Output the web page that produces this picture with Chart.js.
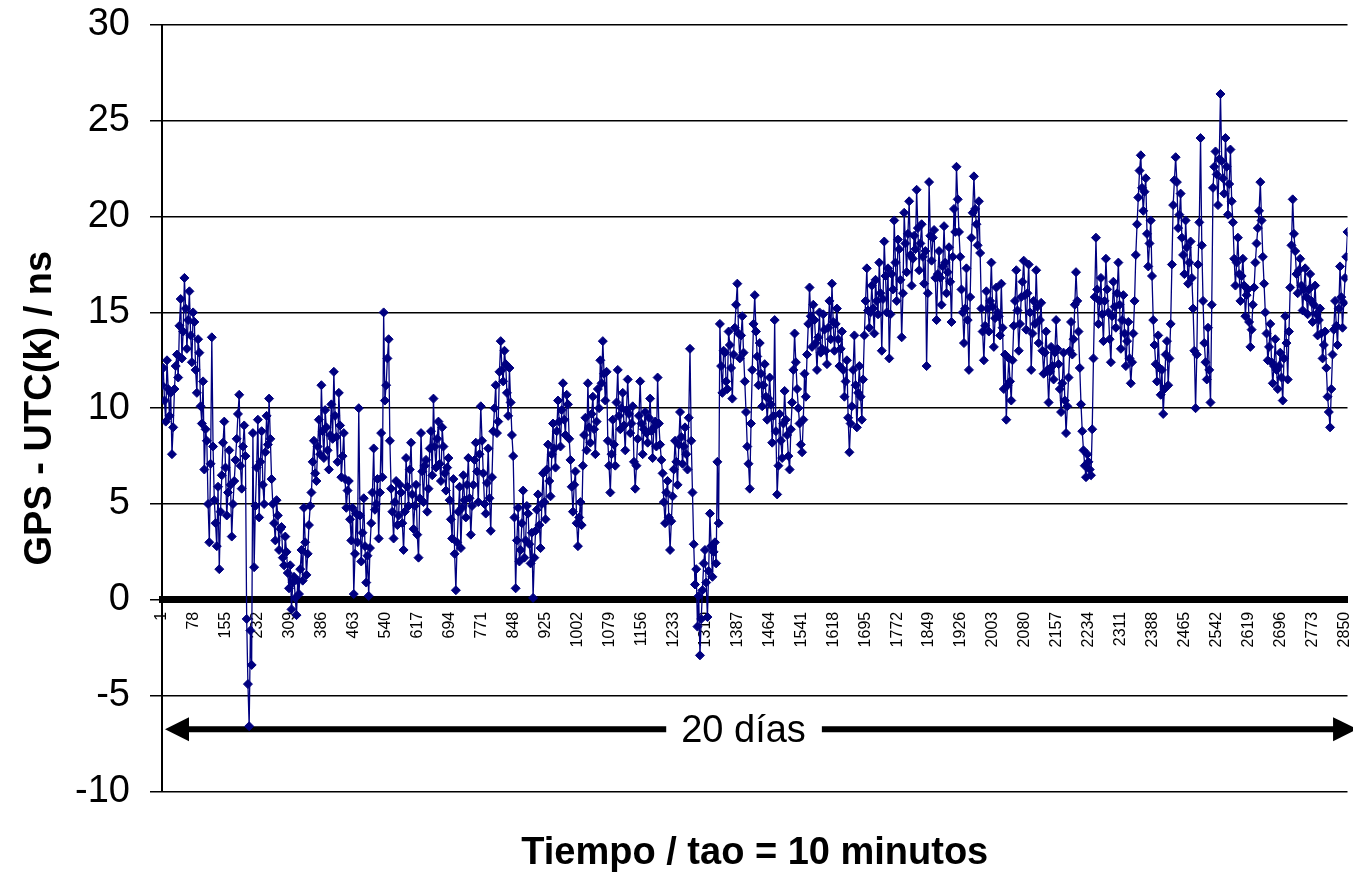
<!DOCTYPE html>
<html>
<head>
<meta charset="utf-8">
<script src="https://cdn.jsdelivr.net/npm/chart.js@4.4.1/dist/chart.umd.min.js"></script>
<style>
html,body{margin:0;padding:0;background:#fff;overflow:hidden}
#wrap{width:1353px;height:879px;position:relative}
</style>
</head>
<body>
<div id="wrap"><canvas id="c"></canvas></div>
<script>
// sample number of the first value and spacing (in samples) between the values
const firstSample = 1;
const sampleStep = 3;

// GPS - UTC(k) in ns, in time order
const valuesPart1 = [
  11.2,12.1,10.4,9.3,12.5,11.0,9.6,10.8,7.6,9.0,11.0,12.2,12.8,11.6,14.3,15.7,12.6,14.0,16.8,15.2,
  13.1,14.6,16.1,13.8,12.4,15.0,14.5,12.0,10.8,13.6,12.9,10.1,9.2,11.4,6.8,8.9,8.3,5.0,3.0,7.1,
  13.7,8.0,5.2,4.0,2.8,5.9,1.6,4.6,6.5,8.2,9.3,6.9,4.4,5.6,7.8,6.0,3.3,5.0,6.2,7.3,
  8.4,9.7,10.7,7.0,5.8,8.0,9.1,7.5,-1.0,-4.4,-6.6,-1.6,-3.4,8.7,1.7,4.9,6.9,9.4,4.3,7.2,
  8.8,6.0,5.0,7.7,9.6,8.1,10.5,8.4,6.3,5.0,4.0,3.1,5.2,4.4,2.6,3.7,3.8,2.2,1.8,3.3,
  2.5,1.4,0.6,1.8,-0.5,0.9,1.2,0.1,-0.8,1.0,0.3,1.6,2.6,1.0,4.8,3.0,1.3,2.4,3.9,4.9,
  5.6,7.2,8.3,6.6,6.2,8.0,9.4,7.6,11.2,8.8,7.4,9.9,9.0,7.8,6.8,8.6,10.2,8.4,11.9,9.6,
  8.5,7.2,10.8,9.1,6.4,7.5,8.7,6.3,4.8,5.7,6.2,4.2,3.1,4.8,0.3,2.4,4.5,3.0,10.0,4.4,
  2.0,3.5,5.3,2.8,0.9,2.3,0.2,2.7,4.0,5.6,7.9,4.7,5.0,6.3,3.2,5.6,8.7,6.4,15.0,10.4,
  11.2,12.6,13.6,8.3,5.8,4.6,3.2,5.1,6.2,3.9,4.4,6.0,5.6,4.0,2.6,4.6,7.4,5.9,4.9,6.8,
  8.2,5.5,3.7,4.9,6.0,3.4,2.2,5.3,8.7,6.7,5.1,7.0,7.3,4.6,5.8,7.9,8.8,6.5,10.5,8.0,
  6.9,8.4,9.3,7.1,6.2,9.0,8.0,6.6,5.7,6.9,7.4,5.2,4.2,3.2,6.3,2.4,0.5,3.0,4.6,5.9
];
const valuesPart2 = [
  2.7,4.8,6.5,5.2,4.3,6.0,7.4,5.3,3.4,4.9,6.0,7.3,8.2,6.7,5.1,7.6,10.1,8.3,6.6,5.0,
  4.5,6.1,7.9,5.3,3.6,6.4,8.8,10.0,11.2,8.7,9.3,11.9,13.5,12.0,11.4,13.0,12.3,10.8,9.6,12.1,
  10.3,8.6,7.5,4.3,0.6,3.1,4.8,2.0,2.6,4.0,5.7,2.2,3.1,4.9,4.5,2.9,1.9,3.5,0.1,2.2,
  3.6,4.7,5.5,3.9,2.7,5.0,6.6,5.1,4.2,6.8,8.1,6.2,5.4,7.6,9.2,7.9,6.9,8.8,10.4,9.3,
  8.0,9.9,11.3,9.4,8.6,10.7,10.2,8.4,7.3,5.9,4.6,6.0,6.7,4.0,2.8,4.3,5.1,3.9,7.0,8.6,
  9.5,7.8,11.3,9.0,8.2,9.7,10.6,8.9,7.6,9.3,11.0,10.0,12.5,11.3,13.5,11.8,10.4,11.9,8.3,7.0,
  5.6,7.6,9.4,8.1,7.0,10.3,12.0,9.6,8.9,10.0,10.8,9.1,7.8,9.9,11.5,9.7,8.7,9.2,10.1,7.2,
  5.8,7.0,8.4,9.6,11.4,9.2,7.6,8.9,9.8,8.7,8.2,9.5,10.5,8.8,7.4,9.0,9.3,8.0,11.6,9.2,
  8.1,7.3,6.6,5.1,4.0,5.6,6.2,4.3,2.6,4.1,5.4,6.8,8.3,7.2,6.0,8.1,9.8,8.5,7.1,8.0,
  9.0,7.6,6.8,9.5,13.1,8.3,5.6,2.9,0.8,1.6,-1.4,0.2,-2.9,-1.0,0.5,1.9,2.6,0.9,-0.9,1.5,
  4.5,2.8,1.2,2.5,3.0,1.9,7.2,4.0,14.4,12.2,10.8,13.0,12.9,11.4,11.0,14.0,13.3,12.1,10.5,12.8,
  14.2,15.4,16.5,13.9,12.6,13.8,14.8,12.9,11.4,9.8,8.0,7.1,5.8,9.2,12.0,14.4,15.9,14.0,12.7,11.2
];
const valuesPart3 = [
  13.4,11.8,10.1,11.2,12.3,10.6,9.4,10.5,11.6,10.2,8.2,9.6,14.6,8.8,5.5,7.0,9.7,8.3,7.4,9.2,
  10.9,9.4,8.6,7.5,6.8,8.9,10.3,12.0,13.9,12.4,11.0,10.0,9.2,8.1,7.7,9.4,11.8,10.6,12.8,14.4,
  16.3,14.8,13.2,15.4,14.6,13.4,12.0,13.7,15.0,12.9,13.1,14.9,14.1,13.0,12.3,14.2,15.6,13.6,16.5,14.5,
  13.0,14.4,15.2,13.6,12.2,13.1,14.0,12.0,10.6,11.4,12.5,9.5,7.7,9.2,10.1,12.0,13.8,11.2,9.0,10.8,
  12.2,10.6,9.4,11.5,13.8,15.6,17.3,15.1,14.2,15.0,16.4,15.2,13.9,16.7,15.6,14.9,17.6,16.0,13.0,15.7,
  18.7,16.9,15.0,17.3,12.6,14.9,17.0,16.2,19.8,17.6,15.6,18.8,18.3,16.7,13.7,16.0,20.2,18.6,17.1,19.1,
  20.8,18.0,16.4,17.8,19.0,18.3,21.4,19.4,17.2,18.6,19.6,17.9,16.5,18.2,12.2,16.0,21.8,19.0,17.7,18.9,
  19.3,16.8,14.6,17.0,18.2,16.8,15.4,17.4,19.5,17.6,16.0,17.1,18.4,16.6,14.5,17.9,20.4,19.2,22.6,20.9,
  19.2,17.9,16.2,15.0,13.4,15.2,17.3,14.6,12.0,15.8,18.9,20.2,22.1,20.4,19.6,18.5,20.8,18.1,15.2,14.0,
  12.5,14.3,16.1,15.2,14.0,15.6,17.6,15.3,13.2,14.7,16.3,15.0,14.8,13.8,16.5,14.2,11.0,12.8,9.4,11.2,
  12.6,11.4,10.4,12.5,14.3,15.6,17.2,15.1,13.0,14.4,15.8,16.6,17.7,15.9,14.1,16.0,17.5,15.0,12.0,13.9,
  15.6,14.4,17.2,15.3,13.4,14.6,15.5,13.0,11.8,12.9,14.0,12.0,10.3,11.9,13.2,12.2,11.5,12.9,14.6,13.1
];
const valuesPart4 = [
  12.3,11.0,9.8,11.3,12.9,10.4,8.7,10.1,11.6,13.0,14.5,12.8,13.6,15.4,17.1,15.6,14.0,12.1,10.2,8.8,
  7.8,7.0,6.4,7.6,7.2,6.8,6.5,8.9,12.6,15.8,18.9,16.2,14.4,15.6,16.8,14.9,13.5,15.6,17.8,16.2,
  15.0,13.6,12.4,14.8,16.6,15.3,14.2,16.0,17.6,15.4,13.1,14.6,15.9,13.9,12.2,13.5,14.5,12.6,11.3,12.4,
  13.9,15.6,18.0,19.6,21.0,22.4,23.2,21.5,20.3,21.3,22.0,19.1,17.4,18.6,19.8,16.9,14.6,13.3,12.3,11.4,
  13.8,12.1,10.7,12.0,9.7,11.0,12.8,13.5,11.2,12.6,14.4,17.5,20.6,21.9,23.1,21.8,19.4,20.1,21.2,18.9,
  18.0,17.0,19.8,18.4,16.5,17.6,18.7,16.8,15.2,13.0,10.0,12.8,17.5,19.7,24.1,18.5,15.6,13.4,12.4,11.5,
  14.2,12.0,10.3,15.4,21.5,22.6,23.4,22.2,20.6,23.0,26.4,22.9,22.0,21.2,24.1,22.6,20.1,21.7,23.5,20.8,
  19.7,17.8,16.4,17.6,18.9,17.0,15.6,16.9,17.8,16.4,14.8,15.9,16.2,14.5,13.2,14.1,15.4,16.3,17.6,18.6,
  19.4,20.3,21.8,19.8,17.9,16.5,15.0,13.9,12.5,13.2,14.4,12.4,11.3,12.2,13.6,12.0,11.0,12.2,12.9,11.6,
  10.4,12.6,14.8,13.4,11.5,14.0,16.3,18.5,20.9,19.1,18.2,17.0,16.0,17.2,17.8,16.4,15.1,16.2,17.3,15.8,
  14.9,16.2,17.0,15.6,14.5,15.4,16.4,14.9,13.8,14.6,15.2,13.9,12.6,13.3,14.0,12.1,10.6,9.8,9.0,11.0,
  12.8,14.1,15.6,14.3,13.3,15.2,17.4,15.8,14.2,15.5,16.8,17.9,19.2,18.0,17.5,16.4,18.6,17.7,16.9,18.1
];

// category labels shown on the time axis
const tickLabels = [1,78,155,232,309,386,463,540,617,694,771,848,925,1002,1079,1156,1233,1310,
  1387,1464,1541,1618,1695,1772,1849,1926,2003,2080,2157,2234,2311,2388,2465,2542,2619,2696,2773,2850];

const yTitle = 'GPS - UTC(k) / ns';
const xTitle = 'Tiempo / tao = 10 minutos';
const arrowText = '20 días';
const arrowValue = -6.75;     // ns level of the span arrow
const arrowStart = 1;         // sample where the arrow starts
const arrowEnd = 2880;        // sample where the arrow ends (beyond the visible edge)
const arrowLabelAt = 1402;    // sample at the centre of the arrow text

const allValues = valuesPart1.concat(valuesPart2, valuesPart3, valuesPart4);
const points = allValues.map((v, k) => ({ x: firstSample + sampleStep * k, y: v }));

const FONT = '"Liberation Sans", Arial, Helvetica, sans-serif';

const arrowPlugin = {
  id: 'spanArrow',
  beforeDatasetsDraw(chart) {
    const { ctx, scales: { x, y } } = chart;
    const yy = y.getPixelForValue(arrowValue);
    const xL = x.getPixelForValue(arrowStart) + 3;
    const xR = x.getPixelForValue(arrowEnd);
    const xc = x.getPixelForValue(arrowLabelAt);
    ctx.save();
    ctx.font = '38px ' + FONT;
    const tw = ctx.measureText(arrowText).width;
    ctx.fillStyle = '#000';
    ctx.strokeStyle = '#000';
    ctx.lineWidth = 6;
    ctx.beginPath();
    ctx.moveTo(xL + 20, yy);
    ctx.lineTo(xc - tw / 2 - 15, yy);
    ctx.moveTo(xc + tw / 2 + 16, yy);
    ctx.lineTo(xR - 20, yy);
    ctx.stroke();
    ctx.beginPath();
    ctx.moveTo(xL, yy); ctx.lineTo(xL + 24, yy - 12); ctx.lineTo(xL + 24, yy + 12); ctx.closePath(); ctx.fill();
    ctx.beginPath();
    ctx.moveTo(xR, yy); ctx.lineTo(xR - 24, yy - 12); ctx.lineTo(xR - 24, yy + 12); ctx.closePath(); ctx.fill();
    ctx.textAlign = 'center';
    ctx.textBaseline = 'alphabetic';
    ctx.fillText(arrowText, xc, yy + 13);
    ctx.restore();
  }
};

new Chart(document.getElementById('c'), {
  type: 'line',
  data: {
    datasets: [{
      data: points,
      borderColor: '#000080',
      backgroundColor: '#000080',
      borderWidth: 1.3,
      tension: 0,
      pointStyle: 'rectRot',
      pointRadius: 4.5,
      pointBorderWidth: 1,
      pointBackgroundColor: '#000080',
      pointBorderColor: '#000080'
    }]
  },
  options: {
    responsive: true,
    maintainAspectRatio: false,
    animation: false,
    events: [],
    layout: { padding: { top: 25, left: 0, right: 0, bottom: 0 } },
    plugins: {
      legend: { display: false },
      tooltip: { enabled: false },
      title: {
        display: true, text: xTitle, position: 'bottom', fullSize: false,
        color: '#000', font: { family: FONT, size: 38, weight: 'bold', lineHeight: 1.2 },
        padding: { top: 39, bottom: 3 }
      }
    },
    scales: {
      x: {
        type: 'linear',
        position: { y: 0 },
        min: 1,
        max: 2857,
        afterBuildTicks: s => { s.ticks = tickLabels.map(v => ({ value: v })); },
        afterFit: s => { s.paddingLeft = 0; s.paddingRight = 0; },
        grid: { display: false, drawTicks: false },
        border: { display: true, color: '#000', width: 7 },
        ticks: {
          autoSkip: false, minRotation: 90, maxRotation: 90, padding: 12,
          color: '#000', font: { family: FONT, size: 16 },
          callback: v => String(v)
        }
      },
      y: {
        min: -10,
        max: 30,
        afterFit: s => { s.width = 162; s.paddingTop = 0; s.paddingBottom = 0; },
        ticks: { stepSize: 5, padding: 20, color: '#000', font: { family: FONT, size: 38 } },
        grid: { color: '#000', lineWidth: 1.5, tickLength: 12, drawTicks: true },
        border: { color: '#000', width: 2 },
        title: {
          display: true, text: yTitle, color: '#000',
          font: { family: FONT, size: 38, weight: 'bold' },
          padding: { top: 18, bottom: 0 }
        }
      }
    }
  },
  plugins: [arrowPlugin]
});
</script>
</body>
</html>
